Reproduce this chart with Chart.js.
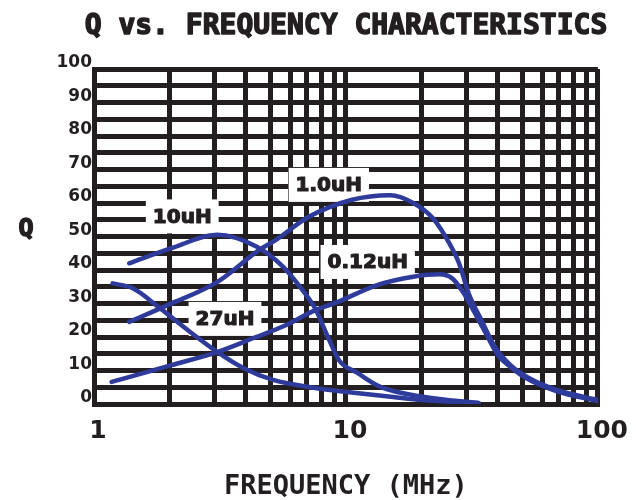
<!DOCTYPE html>
<html><head><meta charset="utf-8">
<script src="https://cdn.jsdelivr.net/npm/chart.js@4.4.0/dist/chart.umd.min.js"></script>
<style>html,body{margin:0;padding:0;background:#fff}#wrap{width:636px;height:500px}</style>
</head><body><div id="wrap"><canvas id="c" width="636" height="500"></canvas></div>
<script>
// ---- data ----
const xGridValues = [1,2,3,4,5,6,7,8,9,10,20,30,40,50,60,70,80,90,100];
const xLabelValues = [1,10,100];
const yLabelStep = 10;

const freq10uH = [1.38, 2.03, 3.08, 4.41, 5.62, 6.72, 7.55, 8.48, 9.4, 11.1, 13.7, 20.5, 33.6];
const q10uH    = [42, 46.5, 50.5, 47, 41, 34, 28.5, 20, 13, 9.3, 5.1, 2.1, 0.3];

const freq1uH = [1.38, 1.97, 3.08, 4.53, 5.28, 7.09, 10.5, 15.0, 18.5, 22.1, 25.7, 28.1, 30.7, 34.5, 38.7, 45.1, 52.5, 68.7, 100];
const q1uH    = [24.5, 29.6, 36.4, 46, 49, 55.8, 60.9, 62.3, 60, 55.5, 48, 42, 33, 25, 17.5, 11.5, 8, 4.2, 1.2];

const freq012uH = [1.175, 2.03, 3.08, 4.30, 5.77, 7.3, 9.3, 13.3, 18.5, 23.5, 26.4, 28.8, 30.7, 35.4, 40.2, 45.1, 52.5, 68.7, 100];
const q012uH    = [6.6, 11.6, 15.5, 19.7, 23.5, 27.5, 30.5, 35.5, 38, 38.7, 37.5, 34, 30.5, 22, 14.5, 11, 7.5, 3.8, 0.9];

const freq27uH = [1.185, 1.42, 1.80, 2.36, 3.09, 3.93, 5.14, 7.55, 10.1, 15.4, 20, 33.6];
const q27uH    = [36, 34.6, 29, 22, 15.5, 10.7, 7.2, 4.8, 3.6, 2.1, 1.2, 0.3];

const seriesNames = ['10uH', '1.0uH', '0.12uH', '27uH'];
const labelFreq = [2.24, 8.55, 12.2, 3.31];
const labelQ    = [56, 65.4, 42.4, 25.4];

// ---- style ----
const INK = '#231f20';
const BLUE = '#2f3b9b';
const FONT = 'DejaVu Sans Mono';
const NUMFONT = 'DejaVu Sans';

const toPts = (fs, qs) => fs.map((f, i) => ({x: f, y: qs[i]}));
const seriesData = [toPts(freq10uH, q10uH), toPts(freq1uH, q1uH), toPts(freq012uH, q012uH), toPts(freq27uH, q27uH)];

function heavyText(ctx, text, x, y, sw) {
  ctx.lineWidth = sw;
  ctx.lineJoin = 'round';
  ctx.strokeStyle = INK;
  ctx.strokeText(text, x, y);
  ctx.fillText(text, x, y);
}

const annot = {
  id: 'annot',
  beforeDatasetsDraw(chart) {
    const {ctx, scales: {x, y}} = chart;
    ctx.save();
    ctx.font = 'bold 20px "' + NUMFONT + '"';
    ctx.textAlign = 'center';
    ctx.textBaseline = 'middle';
    seriesNames.forEach((name, i) => {
      const px = x.getPixelForValue(labelFreq[i]);
      const py = y.getPixelForValue(labelQ[i]);
      const w = ctx.measureText(name).width;
      ctx.fillStyle = '#fff';
      ctx.fillRect(px - w / 2 - 7, py - 17, w + 14, 34);
      ctx.fillStyle = INK;
      heavyText(ctx, name, px, py + 1, 1.2);
    });
    ctx.restore();
  },
  afterDraw(chart) {
    const {ctx, chartArea} = chart;
    ctx.save();
    ctx.fillStyle = INK;
    ctx.textAlign = 'center';
    ctx.textBaseline = 'middle';
    ctx.font = 'bold 28px "' + FONT + '"';
    heavyText(ctx, 'Q vs. FREQUENCY CHARACTERISTICS', (chartArea.left + chartArea.right) / 2, 27, 1.5);
    ctx.font = 'bold 25px "' + FONT + '"';
    heavyText(ctx, 'Q', 26, 229, 1.5);
    ctx.restore();
  }
};

new Chart(document.getElementById('c'), {
  type: 'line',
  data: {
    datasets: seriesNames.map((n, i) => ({
      label: n,
      data: seriesData[i],
      borderColor: BLUE,
      borderWidth: 4.5,
      borderCapStyle: 'round',
      pointRadius: 0,
      fill: false,
      cubicInterpolationMode: 'monotone'
    }))
  },
  options: {
    responsive: false,
    animation: false,
    devicePixelRatio: 1,
    layout: {padding: {top: 69, right: 27, left: 0, bottom: 0}},
    plugins: {legend: {display: false}, title: {display: false}, tooltip: {enabled: false}},
    scales: {
      x: {
        type: 'logarithmic', min: 1, max: 100,
        afterBuildTicks(s) { s.ticks = xGridValues.map(v => ({value: v})); },
        afterFit(s) { s.height = 96; },
        ticks: {
          autoSkip: false, maxRotation: 0, padding: 12, labelOffset: 4,
          color: INK, font: {family: NUMFONT, weight: 'bold', size: 25},
          callback: v => xLabelValues.includes(v) ? String(v) : ''
        },
        grid: {color: INK, lineWidth: 5, drawTicks: false},
        border: {color: INK, width: 5},
        title: {display: true, text: 'FREQUENCY (MHz)', color: INK, padding: 0,
                font: {family: FONT, weight: 'bold', size: 27, lineHeight: 1}}
      },
      y: {
        min: 0, max: 100,
        afterFit(s) { s.width = 94; },
        ticks: {
          stepSize: 5, autoSkip: false, padding: 2, labelOffset: -6,
          color: INK, font: {family: NUMFONT, weight: 'bold', size: 17},
          callback: v => (v % yLabelStep === 0) ? String(v) : ''
        },
        grid: {color: INK, lineWidth: 5, drawTicks: false},
        border: {color: INK, width: 5}
      }
    }
  },
  plugins: [annot]
});
</script></body></html>
